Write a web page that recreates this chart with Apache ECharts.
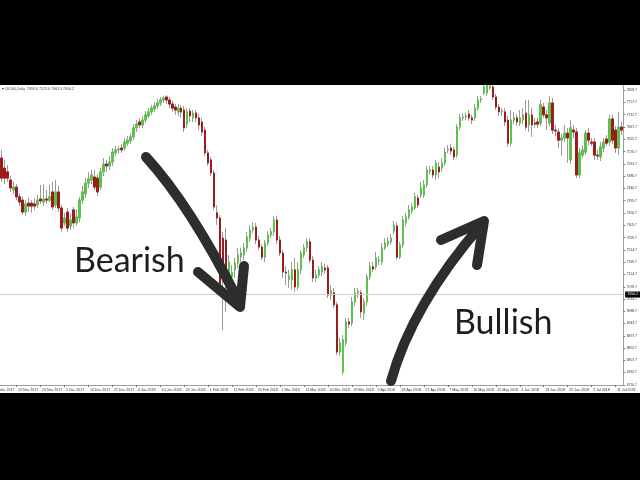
<!DOCTYPE html>
<html><head><meta charset="utf-8">
<script src="https://cdn.jsdelivr.net/npm/echarts@6/dist/echarts.min.js"></script>
<style>html,body{margin:0;padding:0;background:#fff}#c{width:640px;height:480px}</style>
</head><body><div id="c"></div>
<script>
// Daily UK100 candles (price units)
const opens = [7553,7516,7502,7472,7435,7446,7410,7398,7354,7387,7387,7384,7380,7402,7391,7402,7398,7428,7380,7428,
7369,7314,7354,7303,7362,7314,7332,7398,7421,7461,7472,7483,7479,7446,7502,7531,7524,7538,7572,7583,
7590,7590,7608,7616,7631,7664,7686,7675,7693,7708,7723,7734,7745,7756,7767,7778,7767,7752,7741,7723,
7737,7730,7678,7726,7701,7719,7701,7686,7656,7572,7546,7498,7351,7332,7258,7251,7115,7115,7141,7166,
7188,7196,7222,7258,7288,7299,7251,7225,7188,7240,7270,7281,7325,7251,7203,7133,7107,7104,7141,7078,
7141,7196,7222,7244,7177,7111,7122,7133,7148,7148,7048,7056,7012,6838,6765,6872,6949,6945,7023,7056,
7056,6982,7023,7115,7152,7152,7174,7170,7222,7236,7244,7284,7303,7188,7233,7314,7336,7358,7369,7406,
7417,7417,7454,7505,7509,7491,7520,7516,7535,7583,7590,7583,7564,7667,7701,7704,7715,7701,7701,7737,
7767,7793,7793,7811,7815,7778,7741,7723,7723,7693,7608,7693,7701,7682,7693,7719,7675,7712,7682,7686,
7682,7741,7712,7682,7756,7656,7649,7619,7627,7645,7546,7656,7649,7491,7564,7575,7645,7612,7612,7564,
7557,7590,7623,7612,7697,7656,7590,7667];
const closes = [7479,7479,7479,7443,7446,7410,7391,7354,7384,7376,7376,7376,7398,7395,7402,7398,7410,7373,7428,7369,
7295,7332,7295,7325,7314,7336,7398,7428,7461,7476,7491,7446,7428,7502,7531,7524,7538,7575,7583,7586,
7583,7612,7619,7631,7664,7678,7675,7693,7712,7723,7737,7745,7756,7767,7774,7767,7752,7737,7730,7737,
7723,7664,7723,7708,7719,7701,7675,7649,7572,7535,7498,7373,7332,7078,7115,7115,7170,7130,7166,7196,
7203,7222,7262,7288,7299,7251,7225,7188,7240,7270,7281,7325,7251,7203,7133,7130,7118,7141,7078,7141,
7203,7222,7244,7177,7111,7122,7141,7152,7141,7048,7063,7012,6838,6872,6883,6949,6942,7023,7056,7060,
6986,7023,7115,7152,7144,7185,7177,7222,7240,7247,7258,7306,7188,7233,7325,7336,7362,7373,7410,7380,
7443,7454,7509,7509,7491,7535,7502,7535,7575,7586,7579,7557,7667,7701,7704,7708,7701,7693,7737,7767,
7771,7815,7822,7819,7778,7741,7723,7726,7686,7608,7693,7701,7686,7701,7712,7667,7712,7675,7678,7678,
7749,7712,7701,7756,7656,7653,7619,7627,7645,7627,7664,7649,7491,7572,7583,7645,7619,7608,7564,7561,
7594,7612,7608,7697,7619,7590,7667,7656];
const lows = [7465,7457,7465,7428,7421,7398,7376,7343,7340,7354,7351,7362,7369,7384,7376,7384,7391,7362,7369,7354,
7281,7303,7281,7288,7295,7303,7317,7384,7406,7443,7457,7435,7413,7435,7487,7502,7509,7524,7561,7568,
7572,7579,7597,7605,7619,7649,7664,7664,7682,7701,7712,7723,7734,7745,7756,7752,7737,7723,7712,7708,
7701,7649,7664,7686,7686,7686,7656,7634,7561,7524,7487,7362,7306,7067,6919,6986,7030,7012,7111,7148,
7170,7177,7207,7244,7277,7236,7214,7177,7170,7229,7258,7266,7236,7192,7111,7085,7074,7067,7060,7067,
7126,7185,7207,7166,7096,7096,7111,7118,7126,7037,7030,7000,6827,6824,6754,6860,6927,6934,7008,7037,
6964,6956,7008,7104,7133,7141,7159,7159,7214,7225,7233,7273,7177,7181,7222,7303,7325,7347,7362,7369,
7406,7406,7443,7494,7479,7472,7479,7502,7524,7572,7564,7546,7553,7656,7690,7693,7690,7678,7690,7726,
7756,7785,7782,7804,7767,7730,7708,7708,7671,7594,7597,7678,7671,7671,7678,7656,7649,7631,7664,7664,
7671,7701,7656,7671,7642,7634,7590,7561,7612,7535,7531,7627,7479,7479,7553,7564,7601,7597,7546,7546,
7542,7575,7597,7597,7605,7572,7564,7638];
const highs = [7583,7546,7527,7487,7465,7457,7424,7410,7398,7406,7398,7406,7417,7454,7457,7435,7454,7465,7472,7450,
7380,7351,7369,7347,7373,7362,7410,7450,7479,7502,7509,7509,7494,7516,7553,7546,7561,7590,7597,7597,
7605,7627,7634,7642,7678,7693,7701,7708,7726,7737,7749,7760,7771,7778,7782,7785,7778,7763,7752,7752,
7749,7745,7737,7737,7730,7730,7715,7701,7667,7583,7557,7509,7380,7343,7281,7295,7196,7159,7185,7222,
7222,7240,7281,7306,7317,7314,7266,7236,7251,7284,7295,7340,7340,7266,7214,7155,7141,7170,7185,7170,
7214,7236,7258,7258,7192,7141,7155,7170,7163,7159,7085,7074,7023,6890,6901,6964,6964,7041,7074,7074,
7067,7037,7126,7170,7170,7207,7192,7240,7258,7262,7273,7321,7317,7244,7340,7351,7380,7387,7424,7417,
7465,7472,7524,7524,7524,7546,7538,7553,7590,7601,7605,7594,7678,7715,7719,7719,7730,7712,7752,7782,
7782,7830,7841,7841,7826,7789,7752,7737,7737,7708,7730,7723,7715,7730,7737,7767,7767,7737,7701,7701,
7767,7756,7730,7782,7774,7675,7664,7642,7675,7664,7693,7675,7664,7590,7601,7656,7664,7627,7627,7583,
7612,7627,7638,7712,7712,7671,7723,7686];
// tick labels
const yTicks = [6716.7,6762.7,6807.7,6852.7,6897.7,6943.7,6988.7,7033.7,7078.7,7124.7,7169.7,7214.7,7259.7,
7305.7,7350.7,7395.7,7440.7,7486.7,7531.7,7576.7,7622.7,7667.7,7712.7,7757.7,7803.7];
const dateLabels = ['13 Nov 2017','24 Nov 2017','5 Dec 2017','14 Dec 2017','25 Dec 2017','4 Jan 2018','14 Jan 2018',
'23 Jan 2018','1 Feb 2018','11 Feb 2018','20 Feb 2018','1 Mar 2018','11 Mar 2018','20 Mar 2018','29 Mar 2018',
'9 Apr 2018','18 Apr 2018','27 Apr 2018','7 May 2018','16 May 2018','25 May 2018','4 Jun 2018','13 Jun 2018',
'22 Jun 2018','2 Jul 2018','11 Jul 2018'];
const firstDateLabel = '3 Nov 2017';
const lastPrice = 7050.2;
const infoText = '\u25BE UK100,Daily  7059.6 7123.0 7063.3 7050.2';

const categories = opens.map((_, i) => String(i));
const firstLabelBar = 5, labelStep = 8;
const isLabelBar = i => i >= firstLabelBar && (i - firstLabelBar) % labelStep === 0;

const full = opens.map((o, i) => [o, closes[i], lows[i], highs[i]]);
const bodies = opens.map((o, i) => [o, closes[i], Math.min(o, closes[i]), Math.max(o, closes[i])]);

const UP = '#5cc24c', DOWN = '#9c1b1b', WICK = '#9a9a9a';
const SMALL = 'Liberation Sans';
const chart = echarts.init(document.getElementById('c'), null, {renderer: 'canvas'});
chart.setOption({
  animation: false,
  backgroundColor: '#fff',
  grid: {left: 0, right: 16, top: 85, bottom: 95},
  xAxis: {
    type: 'category', data: categories, boundaryGap: true,
    axisLine: {lineStyle: {color: '#a0a0a0', width: 1}},
    axisTick: {show: true, alignWithLabel: true, length: 2, interval: (i) => isLabelBar(i), lineStyle: {color: '#777'}},
    axisLabel: {interval: (i) => isLabelBar(i), formatter: (v, i) => dateLabels[(i - firstLabelBar) / labelStep] || '',
      align: 'left', fontSize: 3.6, color: '#333', margin: 2.5, fontFamily: SMALL, hideOverlap: false,
      showMinLabel: true, showMaxLabel: true, padding: [0, 0, 0, 1.5]},
    splitLine: {show: false}
  },
  yAxis: {
    type: 'value', position: 'right', min: 6716.7, max: 7822.2, scale: true,
    axisLine: {show: true, lineStyle: {color: '#a0a0a0'}},
    axisTick: {show: true, length: 2, customValues: yTicks, lineStyle: {color: '#777'}},
    axisLabel: {customValues: yTicks, formatter: v => v.toFixed(1), fontSize: 3.4, color: '#333', margin: 3.5, fontFamily: SMALL},
    splitLine: {show: false}
  },
  series: [
    {type: 'candlestick', data: full, barWidth: 2, clip: true,
     itemStyle: {color: WICK, color0: WICK, borderColor: WICK, borderColor0: WICK, borderWidth: 1}},
    {type: 'candlestick', data: bodies, barWidth: 2, clip: true, z: 3,
     itemStyle: {color: UP, color0: DOWN, borderColor: UP, borderColor0: DOWN, borderWidth: 1},
     markLine: {symbol: 'none', silent: true, animation: false,
       lineStyle: {color: '#cfcfcf', width: 1, type: 'solid'},
       label: {position: 'end', formatter: () => lastPrice.toFixed(1), backgroundColor: '#000', color: '#fff',
         fontSize: 3.6, padding: [1, 2], distance: 2, fontFamily: SMALL},
       data: [{yAxis: lastPrice}]}}
  ],
  graphic: [
    {type: 'text', left: 2, top: 87, z: 50, style: {text: infoText, fontSize: 3.6, fill: '#444', fontFamily: SMALL}},
    {type: 'text', left: -4, top: 388, z: 50, style: {text: firstDateLabel, fontSize: 3.6, fill: '#333', fontFamily: SMALL}},
    {type: 'bezierCurve', z: 60, shape: {x1: 146, y1: 157, cpx1: 190, cpy1: 205, x2: 238, y2: 300},
      style: {stroke: '#2d2d2d', lineWidth: 10, lineCap: 'round', fill: null}},
    {type: 'polyline', z: 60, shape: {points: [[198, 272], [240, 307], [244, 266]]},
      style: {stroke: '#2d2d2d', lineWidth: 10, lineCap: 'round', lineJoin: 'round', fill: null}},
    {type: 'bezierCurve', z: 60, shape: {x1: 391, y1: 381, cpx1: 412, cpy1: 305, x2: 482, y2: 224},
      style: {stroke: '#2d2d2d', lineWidth: 10, lineCap: 'round', fill: null}},
    {type: 'polyline', z: 60, shape: {points: [[441, 240], [484, 221], [477, 265]]},
      style: {stroke: '#2d2d2d', lineWidth: 10, lineCap: 'round', lineJoin: 'round', fill: null}},
    {type: 'text', left: 74, top: 244, z: 60, style: {text: 'Bearish', fontSize: 34, fill: '#1e1e1e', fontFamily: 'Lato'}},
    {type: 'text', left: 454, top: 306, z: 60, style: {text: 'Bullish', fontSize: 34, fill: '#1e1e1e', fontFamily: 'Lato'}},
    {type: 'rect', z: 100, shape: {x: 0, y: 0, width: 640, height: 85}, style: {fill: '#000'}},
    {type: 'rect', z: 100, shape: {x: 0, y: 393, width: 640, height: 87}, style: {fill: '#000'}}
  ]
});
</script></body></html>
